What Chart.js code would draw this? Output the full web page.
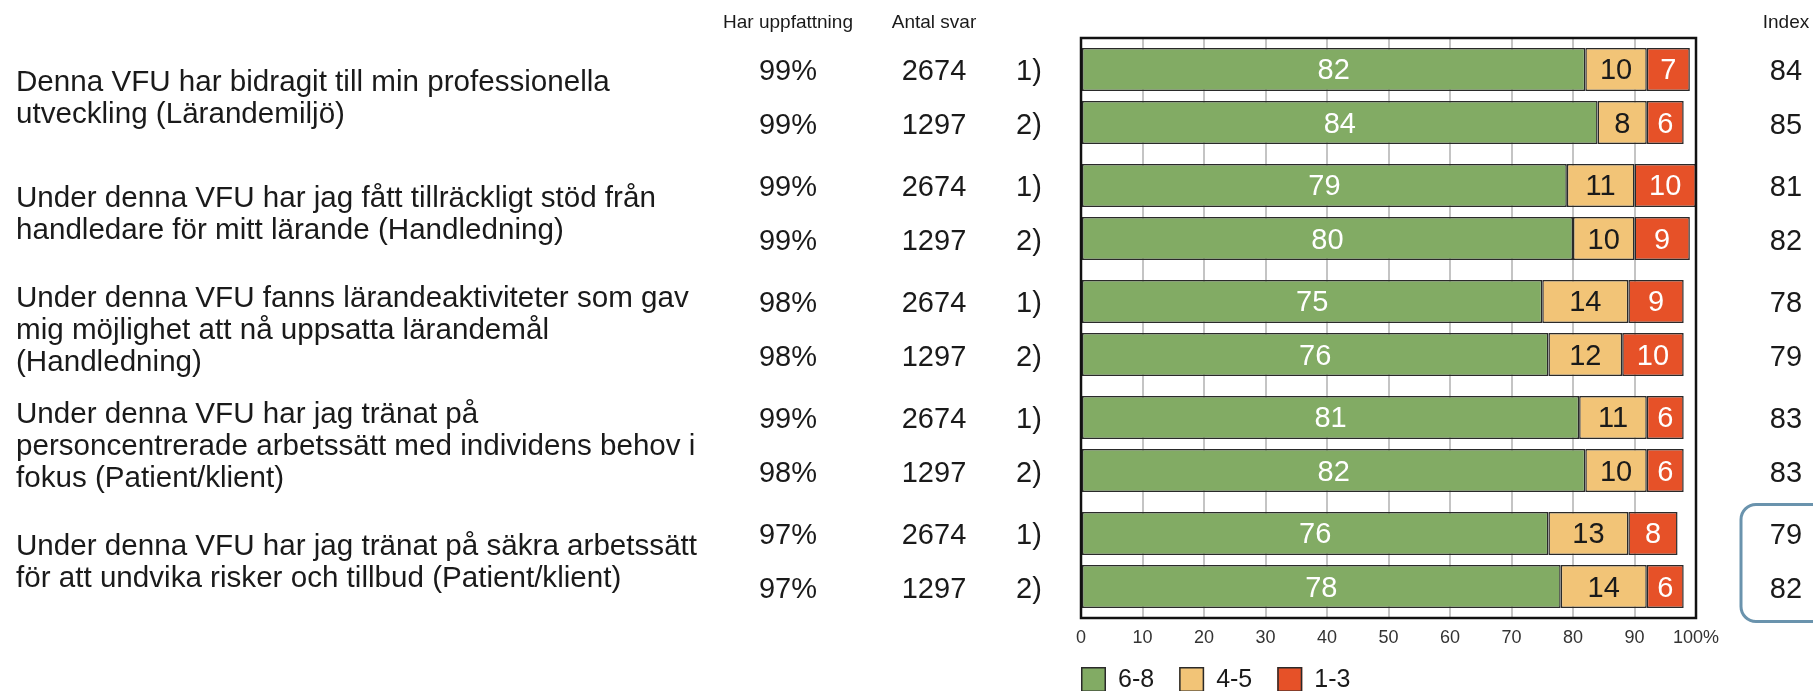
<!DOCTYPE html>
<html lang="sv">
<head>
<meta charset="utf-8">
<title>VFU – enkätresultat</title>
<script src="https://cdn.jsdelivr.net/npm/chart.js@4.4.1/dist/chart.umd.min.js"></script>
<style>
  html, body { margin: 0; padding: 0; background: #fff; }
  #wrap { width: 1813px; height: 691px; }
</style>
</head>
<body>
<div id="wrap"><canvas id="vfuChart" width="1813" height="691"></canvas></div>
<script>
// Frågorna, en post per rad i etiketten
const questions = [
    ["Denna VFU har bidragit till min professionella", "utveckling (Lärandemiljö)"],
    ["Under denna VFU har jag fått tillräckligt stöd från", "handledare för mitt lärande (Handledning)"],
    ["Under denna VFU fanns lärandeaktiviteter som gav", "mig möjlighet att nå uppsatta lärandemål", "(Handledning)"],
    ["Under denna VFU har jag tränat på", "personcentrerade arbetssätt med individens behov i", "fokus (Patient/klient)"],
    ["Under denna VFU har jag tränat på säkra arbetssätt", "för att undvika risker och tillbud (Patient/klient)"]
];
const groupLabels = ["1)", "2)"];
const segmentLabels = ["6-8", "4-5", "1-3"];
const headers = ["Har uppfattning", "Antal svar", "Index"];

// Andel som har uppfattning (%)
const share1 = [99, 99, 98, 99, 97];
const share2 = [99, 99, 98, 98, 97];

// Antal svar
const answers1 = [2674, 2674, 2674, 2674, 2674];
const answers2 = [1297, 1297, 1297, 1297, 1297];

// Fördelning av svar (%)
const high1 = [82, 79, 75, 81, 76];
const mid1 = [10, 11, 14, 11, 13];
const low1 = [7, 10, 9, 6, 8];
const high2 = [84, 80, 76, 82, 78];
const mid2 = [8, 10, 12, 10, 14];
const low2 = [6, 9, 10, 6, 6];

// Index
const index1 = [84, 81, 78, 83, 79];
const index2 = [85, 82, 79, 83, 82];

const xTicks = [0, 10, 20, 30, 40, 50, 60, 70, 80, 90, 100];

const FONT = '"Liberation Sans", Arial, Helvetica, sans-serif';
const TEXT = '#1a1a1a';
const segmentColors = ['#82ab64', '#f2c477', '#e65128'];
const segmentText = ['#ffffff', '#1a1a1a', '#ffffff'];

function segment(data, seg, stack) {
    return {
        label: segmentLabels[seg],
        data: data,
        stack: stack,
        backgroundColor: segmentColors[seg],
        borderColor: '#2a2a2a',
        borderWidth: 1.5,
        borderSkipped: false,
        labelColor: segmentText[seg],
        categoryPercentage: 0.914,
        barPercentage: 0.811
    };
}

function roundRectPath(ctx, x, y, w, h, r) {
    ctx.beginPath();
    ctx.moveTo(x + r, y);
    ctx.lineTo(x + w - r, y);
    ctx.arcTo(x + w, y, x + w, y + r, r);
    ctx.lineTo(x + w, y + h - r);
    ctx.arcTo(x + w, y + h, x + w - r, y + h, r);
    ctx.lineTo(x + r, y + h);
    ctx.arcTo(x, y + h, x, y + h - r, r);
    ctx.lineTo(x, y + r);
    ctx.arcTo(x, y, x + r, y, r);
    ctx.closePath();
}

// Ram, stapeletiketter, tabellkolumner och teckenförklaring
const tablePlugin = {
    id: 'vfuTable',
    afterDatasetsDraw(chart) {
        const { ctx, chartArea } = chart;
        ctx.save();

        ctx.strokeStyle = '#111';
        ctx.lineWidth = 2.5;
        ctx.strokeRect(chartArea.left, chartArea.top,
            chartArea.right - chartArea.left, chartArea.bottom - chartArea.top);

        ctx.textAlign = 'center';
        ctx.textBaseline = 'middle';
        ctx.font = `29px ${FONT}`;
        chart.data.datasets.forEach((ds, i) => {
            chart.getDatasetMeta(i).data.forEach((bar, j) => {
                const c = bar.getCenterPoint();
                ctx.fillStyle = ds.labelColor;
                ctx.fillText(String(ds.data[j]), c.x, c.y + 2);
            });
        });

        const rowsA = chart.getDatasetMeta(0).data;
        const rowsB = chart.getDatasetMeta(3).data;

        ctx.fillStyle = TEXT;
        ctx.font = `19px ${FONT}`;
        ctx.fillText(headers[0], 788, 23);
        ctx.fillText(headers[1], 934, 23);
        ctx.fillText(headers[2], 1786, 23);

        questions.forEach((lines, j) => {
            const yA = rowsA[j].y + 3;
            const yB = rowsB[j].y + 3;
            ctx.font = `29px ${FONT}`;
            ctx.textAlign = 'center';
            ctx.fillText(share1[j] + '%', 788, yA);
            ctx.fillText(share2[j] + '%', 788, yB);
            ctx.fillText(String(answers1[j]), 934, yA);
            ctx.fillText(String(answers2[j]), 934, yB);
            ctx.fillText(groupLabels[0], 1029, yA);
            ctx.fillText(groupLabels[1], 1029, yB);
            ctx.fillText(String(index1[j]), 1786, yA);
            ctx.fillText(String(index2[j]), 1786, yB);

            ctx.font = `29.6px ${FONT}`;
            ctx.textAlign = 'left';
            const mid = (rowsA[j].y + rowsB[j].y) / 2 + 3;
            const y0 = mid - (lines.length - 1) * 16;
            lines.forEach((line, k) => ctx.fillText(line, 16, y0 + k * 32));
        });

        // markering av sista frågans index
        const last = questions.length - 1;
        ctx.strokeStyle = '#6a93ad';
        ctx.lineWidth = 3;
        roundRectPath(ctx, 1741, rowsA[last].y - 29, 100, rowsB[last].y - rowsA[last].y + 64, 15);
        ctx.stroke();

        // teckenförklaring
        ctx.font = `25px ${FONT}`;
        ctx.textAlign = 'left';
        let x = chartArea.left;
        const ly = 667;
        segmentLabels.forEach((lab, s) => {
            ctx.fillStyle = segmentColors[s];
            ctx.fillRect(x, ly, 25, 25);
            ctx.strokeStyle = '#2a2a2a';
            ctx.lineWidth = 1.5;
            ctx.strokeRect(x + 0.75, ly + 0.75, 23.5, 23.5);
            ctx.fillStyle = TEXT;
            ctx.fillText(lab, x + 37, ly + 13);
            x += 37 + ctx.measureText(lab).width + 25;
        });

        ctx.restore();
    }
};

new Chart(document.getElementById('vfuChart'), {
    type: 'bar',
    data: {
        labels: questions.map(q => q.join(' ')),
        datasets: [
            segment(high1, 0, 'g1'),
            segment(mid1, 1, 'g1'),
            segment(low1, 2, 'g1'),
            segment(high2, 0, 'g2'),
            segment(mid2, 1, 'g2'),
            segment(low2, 2, 'g2')
        ]
    },
    options: {
        indexAxis: 'y',
        responsive: false,
        animation: false,
        layout: { padding: { top: 38, left: 1081, right: 117, bottom: 0 } },
        plugins: {
            legend: { display: false },
            tooltip: { enabled: false }
        },
        scales: {
            x: {
                stacked: true,
                min: 0,
                max: 100,
                afterBuildTicks: scale => { scale.ticks = xTicks.map(v => ({ value: v })); },
                afterFit: scale => { scale.height = 73; },
                border: { display: false },
                grid: { color: '#c4c4c4', lineWidth: 2, drawTicks: false },
                ticks: {
                    padding: 9,
                    color: '#333',
                    font: { family: FONT, size: 18 },
                    callback: v => v === 100 ? '100%' : String(v)
                }
            },
            y: {
                stacked: true,
                display: false
            }
        }
    },
    plugins: [tablePlugin]
});
</script>
</body>
</html>
